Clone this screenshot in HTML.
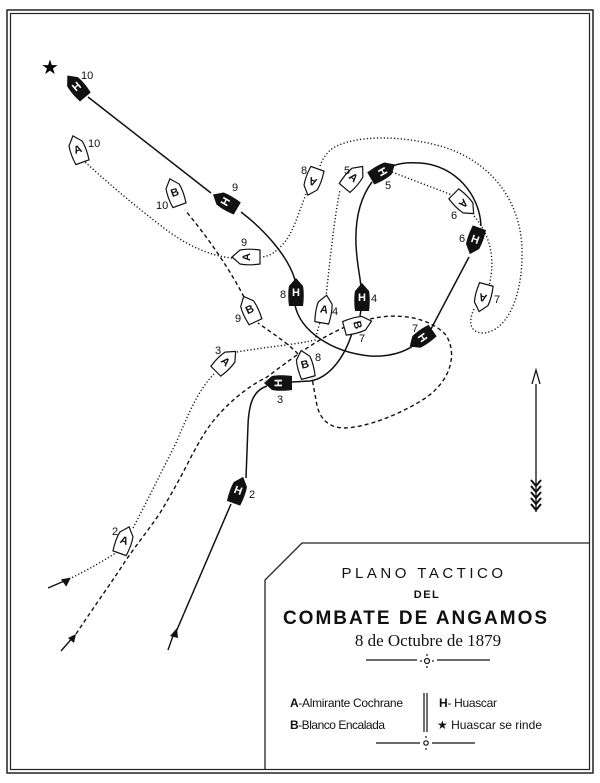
<!DOCTYPE html>
<html><head><meta charset="utf-8"><style>
html,body{margin:0;padding:0;background:#fff;}
svg{display:block;}
.sh{font-family:"Liberation Sans",sans-serif;font-weight:bold;font-size:11px;text-anchor:middle;dominant-baseline:central;}
.lb{font-family:"Liberation Sans",sans-serif;font-size:11px;fill:#111;}
</style></head><body>
<svg width="600" height="783" viewBox="0 0 600 783" xmlns="http://www.w3.org/2000/svg">
<defs>
<path id="hull" d="M0,-15 L7,-7 C8,-2 8,6 7,13 L-7,13 C-8,6 -8,-2 -7,-7 Z"/>
</defs>
<rect x="7" y="10" width="586" height="763" fill="none" stroke="#222" stroke-width="1.5"/>
<rect x="10.5" y="13.5" width="579" height="756" fill="none" stroke="#222" stroke-width="1.2"/>
<path d="M590,543 L302,543 L265,580 L265,770" fill="none" stroke="#222" stroke-width="1.3"/>

<g fill="none" stroke="#111">
<path stroke-width="1.5" d="M88,97 L211,193"/>
<path stroke-width="1.5" d="M241,212 C262,228 288,255 295,280"/>
<path stroke-width="1.5" d="M295,305 C300,330 330,352 370,356 C390,357 405,352 414,345"/>
<path stroke-width="1.5" d="M431,329 L469,257"/>
<path stroke-width="1.5" d="M481,226 C480,195 455,165 420,163 C405,162 398,164 392,166"/>
<path stroke-width="1.5" d="M372,182 C360,198 355,220 356,245 C357,265 360,275 361,287"/>
<path stroke-width="1.5" d="M361,310 L360,316"/>
<path stroke-width="1.5" d="M352,333 C345,356 330,378 310,381 L292,382"/>
<path stroke-width="1.5" d="M267,386 C255,390 249,400 248,425 L246,478"/>
<path stroke-width="1.5" d="M231,504 L176,632"/>
<g stroke-width="1.4" stroke-dasharray="1.2,2.2">
<path d="M69,579 C88,570 105,560 117,552"/>
<path d="M133,528 C145,505 160,475 176,443 C188,415 198,390 214,374"/>
<path d="M237,352 C265,347 300,344 315,340 L320,322"/>
<path d="M326,297 C330,260 334,220 340,190"/>
<path d="M392,172 C420,183 440,190 454,196"/>
<path d="M474,216 C490,235 496,258 489,286"/>
<path d="M474,309 C468,322 470,332 482,333 C505,333 523,300 522,250 C521,200 490,160 440,146 C400,135 355,135 333,148 C326,153 322,160 320,166"/>
<path d="M306,194 C298,215 292,235 283,244 C276,252 270,256 262,257"/>
<path d="M232,258 C210,256 185,245 160,225 C125,198 105,180 85,162"/>
</g>
<g stroke-width="1.4" stroke-dasharray="4,3">
<path d="M76,634 C95,605 112,582 126,560 C140,540 150,528 160,513 C172,493 182,475 191,457 C200,440 206,430 214,420 C235,395 255,383 267,377 C290,360 315,340 345,327"/>
<path d="M370,319 C400,312 430,318 446,335 C458,355 450,380 427,397 C400,415 365,428 343,428 C325,427 318,415 316,400 L312,378"/>
<path d="M298,354 C290,345 275,335 258,323"/>
<path d="M244,297 C230,270 210,240 185,210"/>
</g>
<path stroke-width="1.4" d="M48,588 L69,579"/>
<path stroke-width="1.4" d="M61,651 L74,636"/>
<path stroke-width="1.4" d="M168,650 L174,633"/>
</g>
<g fill="#111">
<path d="M71,578 L61,578 L65,586 Z" transform="rotate(-10 69 579)"/>
<path d="M76,634 L68,638 L74,643 Z"/>
<path d="M177,628 L170,636 L178,638 Z"/>
</g>

<text x="50" y="74" font-family="DejaVu Sans,sans-serif" font-size="20" text-anchor="middle">★</text>

<g class="sh">
<g transform="translate(77,87) rotate(-40)"><use href="#hull" fill="#111"/><text fill="#fff">H</text></g>
<g transform="translate(226,202) rotate(-60)"><use href="#hull" fill="#111"/><text fill="#fff">H</text></g>
<g transform="translate(296,293)"><use href="#hull" fill="#111"/><text fill="#fff">H</text></g>
<g transform="translate(362,298)"><use href="#hull" fill="#111"/><text fill="#fff">H</text></g>
<g transform="translate(382,172) rotate(60)"><use href="#hull" fill="#111"/><text fill="#fff">H</text></g>
<g transform="translate(475,240) rotate(200)"><use href="#hull" fill="#111"/><text fill="#fff" transform="rotate(180)">H</text></g>
<g transform="translate(422,338) rotate(235)"><use href="#hull" fill="#111"/><text fill="#fff" transform="rotate(180)">H</text></g>
<g transform="translate(279,383) rotate(-90)"><use href="#hull" fill="#111"/><text fill="#fff">H</text></g>
<g transform="translate(238,491) rotate(20)"><use href="#hull" fill="#111"/><text fill="#fff">H</text></g>
</g>
<g class="sh" font-weight="normal">
<g transform="translate(78,150) rotate(-20)"><use href="#hull" fill="#fff" stroke="#111" stroke-width="1.2"/><text fill="#111">A</text></g>
<g transform="translate(247,257) rotate(-90)"><use href="#hull" fill="#fff" stroke="#111" stroke-width="1.2"/><text fill="#111">A</text></g>
<g transform="translate(313,181) rotate(200)"><use href="#hull" fill="#fff" stroke="#111" stroke-width="1.2"/><text fill="#111">A</text></g>
<g transform="translate(353,178) rotate(40)"><use href="#hull" fill="#fff" stroke="#111" stroke-width="1.2"/><text fill="#111">A</text></g>
<g transform="translate(463,203) rotate(135)"><use href="#hull" fill="#fff" stroke="#111" stroke-width="1.2"/><text fill="#111">A</text></g>
<g transform="translate(483,297) rotate(195)"><use href="#hull" fill="#fff" stroke="#111" stroke-width="1.2"/><text fill="#111">A</text></g>
<g transform="translate(324,310) rotate(10)"><use href="#hull" fill="#fff" stroke="#111" stroke-width="1.2"/><text fill="#111">A</text></g>
<g transform="translate(225,362) rotate(45)"><use href="#hull" fill="#fff" stroke="#111" stroke-width="1.2"/><text fill="#111">A</text></g>
<g transform="translate(124,541) rotate(20)"><use href="#hull" fill="#fff" stroke="#111" stroke-width="1.2"/><text fill="#111">A</text></g>
<g transform="translate(175,193) rotate(-20)"><use href="#hull" fill="#fff" stroke="#111" stroke-width="1.2"/><text fill="#111">B</text></g>
<g transform="translate(250,310) rotate(-25)"><use href="#hull" fill="#fff" stroke="#111" stroke-width="1.2"/><text fill="#111">B</text></g>
<g transform="translate(305,365) rotate(-15)"><use href="#hull" fill="#fff" stroke="#111" stroke-width="1.2"/><text fill="#111">B</text></g>
<g transform="translate(357,325) rotate(75)"><use href="#hull" fill="#fff" stroke="#111" stroke-width="1.2"/><text fill="#111">B</text></g>
</g>

<g class="lb">
<text x="81" y="79">10</text>
<text x="88" y="147">10</text>
<text x="156" y="209">10</text>
<text x="232" y="191">9</text>
<text x="241" y="246">9</text>
<text x="280" y="298">8</text>
<text x="235" y="322">9</text>
<text x="332" y="315">4</text>
<text x="371" y="302">4</text>
<text x="359" y="342">7</text>
<text x="412" y="332">7</text>
<text x="301" y="174">8</text>
<text x="344" y="174">5</text>
<text x="385" y="189">5</text>
<text x="451" y="219">6</text>
<text x="459" y="242">6</text>
<text x="494" y="303">7</text>
<text x="215" y="354">3</text>
<text x="315" y="361">8</text>
<text x="277" y="403">3</text>
<text x="249" y="498">2</text>
<text x="112" y="535">2</text>
</g>

<g stroke="#111" fill="none" stroke-width="1.3">
<line x1="536" y1="372" x2="536" y2="512"/>
<path d="M532,384 L536,370 L540,384" fill="#fff"/>
</g>
<g stroke="#111" fill="none" stroke-width="2">
<path d="M531,480 L536,486 L541,480 M531,486 L536,492 L541,486 M531,492 L536,498 L541,492 M531,498 L536,504 L541,498 M531,504 L536,510 L541,504"/>
</g>

<g font-family="Liberation Sans,sans-serif" fill="#111" text-anchor="middle">
<text x="424" y="578" font-size="15" letter-spacing="3.5">PLANO TACTICO</text>
<text x="427" y="598" font-size="11" font-weight="bold" letter-spacing="1.5">DEL</text>
<text x="416" y="624" font-size="19" font-weight="bold" letter-spacing="2">COMBATE DE ANGAMOS</text>
<text x="428" y="646" font-size="17" font-family="Liberation Serif,serif">8 de Octubre de 1879</text>
</g>
<g stroke="#111" stroke-width="1.2" fill="none">
<line x1="366" y1="660" x2="417" y2="660"/><line x1="437" y1="660" x2="490" y2="660"/>
<circle cx="427" cy="661" r="2.5"/>
<line x1="376" y1="743" x2="420" y2="743"/><line x1="432" y1="743" x2="475" y2="743"/>
<circle cx="426" cy="743" r="2.2"/>
<line x1="424" y1="693" x2="424" y2="732"/><line x1="427" y1="693" x2="427" y2="732"/>
</g>
<g fill="#111"><circle cx="427" cy="655" r="0.9"/><circle cx="427" cy="667" r="0.9"/><circle cx="421" cy="661" r="0.9"/><circle cx="433" cy="661" r="0.9"/>
<circle cx="426" cy="737" r="0.9"/><circle cx="426" cy="749" r="0.9"/></g>
<g font-family="Liberation Sans,sans-serif" font-size="12" fill="#111">
<text x="290" y="707" textLength="113"><tspan font-weight="bold">A</tspan>-Almirante Cochrane</text>
<text x="290" y="729" textLength="95"><tspan font-weight="bold">B</tspan>-Blanco Encalada</text>
<text x="439" y="707" textLength="58"><tspan font-weight="bold">H</tspan>- Huascar</text>
<text x="437" y="729" textLength="105"><tspan font-family="DejaVu Sans,sans-serif">★</tspan> Huascar se rinde</text>
</g>
</svg>
</body></html>
